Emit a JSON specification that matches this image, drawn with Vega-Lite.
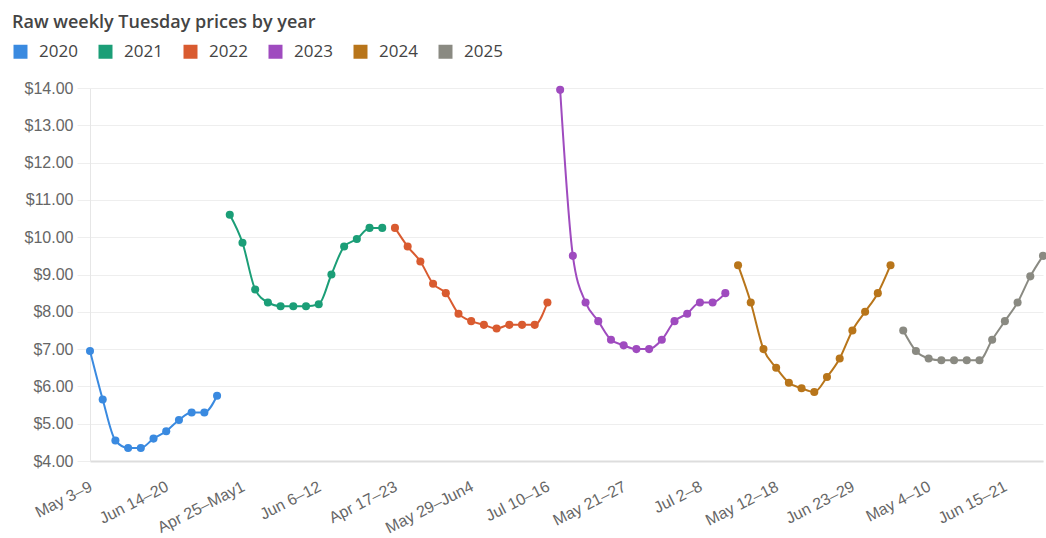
{
  "$schema": "https://vega.github.io/schema/vega-lite/v6.json",
  "width": 956,
  "height": 373,
  "autosize": {"type": "none"},
  "padding": {"left": 90, "top": 88, "right": 0, "bottom": 77},
  "background": "white",
  "title": {"text": "Raw weekly Tuesday prices by year", "anchor": "start", "dy": -7, "fontSize": 18, "font": "Open Sans", "fontWeight": 600, "color": "#444444"},
  "config": {"view": {"stroke": null}},
  "data": {"values": [
    {"year":"2020","week":"May 3–9","price":6.95},
    {"year":"2020","week":"May 10–16","price":5.65},
    {"year":"2020","week":"May 17–23","price":4.55},
    {"year":"2020","week":"May 24–30","price":4.35},
    {"year":"2020","week":"May 31–Jun6","price":4.35},
    {"year":"2020","week":"Jun 7–13","price":4.6},
    {"year":"2020","week":"Jun 14–20","price":4.8},
    {"year":"2020","week":"Jun 21–27","price":5.1},
    {"year":"2020","week":"Jun 28–Jul4","price":5.3},
    {"year":"2020","week":"Jul 5–11","price":5.3},
    {"year":"2020","week":"Jul 12–18","price":5.75},
    {"year":"2021","week":"Apr 18–24","price":10.6},
    {"year":"2021","week":"Apr 25–May1","price":9.85},
    {"year":"2021","week":"May 2–8","price":8.6},
    {"year":"2021","week":"May 9–15","price":8.25},
    {"year":"2021","week":"May 16–22","price":8.15},
    {"year":"2021","week":"May 23–29","price":8.15},
    {"year":"2021","week":"May 30–Jun5","price":8.15},
    {"year":"2021","week":"Jun 6–12","price":8.2},
    {"year":"2021","week":"Jun 13–19","price":9.0},
    {"year":"2021","week":"Jun 20–26","price":9.75},
    {"year":"2021","week":"Jun 27–Jul3","price":9.95},
    {"year":"2021","week":"Jul 4–10","price":10.25},
    {"year":"2021","week":"Jul 11–17","price":10.25},
    {"year":"2022","week":"Apr 17–23","price":10.25},
    {"year":"2022","week":"Apr 24–30","price":9.75},
    {"year":"2022","week":"May 1–7","price":9.35},
    {"year":"2022","week":"May 8–14","price":8.75},
    {"year":"2022","week":"May 15–21","price":8.5},
    {"year":"2022","week":"May 22–28","price":7.95},
    {"year":"2022","week":"May 29–Jun4","price":7.75},
    {"year":"2022","week":"Jun 5–11","price":7.65},
    {"year":"2022","week":"Jun 12–18","price":7.55},
    {"year":"2022","week":"Jun 19–25","price":7.65},
    {"year":"2022","week":"Jun 26–Jul2","price":7.65},
    {"year":"2022","week":"Jul 3–9","price":7.65},
    {"year":"2022","week":"Jul 10–16","price":8.25},
    {"year":"2023","week":"Apr 16–22","price":13.95},
    {"year":"2023","week":"Apr 23–29","price":9.5},
    {"year":"2023","week":"Apr 30–May6","price":8.25},
    {"year":"2023","week":"May 7–13","price":7.75},
    {"year":"2023","week":"May 14–20","price":7.25},
    {"year":"2023","week":"May 21–27","price":7.1},
    {"year":"2023","week":"May 28–Jun3","price":7.0},
    {"year":"2023","week":"Jun 4–10","price":7.0},
    {"year":"2023","week":"Jun 11–17","price":7.25},
    {"year":"2023","week":"Jun 18–24","price":7.75},
    {"year":"2023","week":"Jun 25–Jul1","price":7.95},
    {"year":"2023","week":"Jul 2–8","price":8.25},
    {"year":"2023","week":"Jul 9–15","price":8.25},
    {"year":"2023","week":"Jul 16–22","price":8.5},
    {"year":"2024","week":"Apr 21–27","price":9.25},
    {"year":"2024","week":"Apr 28–May4","price":8.25},
    {"year":"2024","week":"May 5–11","price":7.0},
    {"year":"2024","week":"May 12–18","price":6.5},
    {"year":"2024","week":"May 19–25","price":6.1},
    {"year":"2024","week":"May 26–Jun1","price":5.95},
    {"year":"2024","week":"Jun 2–8","price":5.85},
    {"year":"2024","week":"Jun 9–15","price":6.25},
    {"year":"2024","week":"Jun 16–22","price":6.75},
    {"year":"2024","week":"Jun 23–29","price":7.5},
    {"year":"2024","week":"Jun 30–Jul6","price":8.0},
    {"year":"2024","week":"Jul 7–13","price":8.5},
    {"year":"2024","week":"Jul 14–20","price":9.25},
    {"year":"2025","week":"Apr 20–26","price":7.5},
    {"year":"2025","week":"Apr 27–May3","price":6.95},
    {"year":"2025","week":"May 4–10","price":6.75},
    {"year":"2025","week":"May 11–17","price":6.7},
    {"year":"2025","week":"May 18–24","price":6.7},
    {"year":"2025","week":"May 25–31","price":6.7},
    {"year":"2025","week":"Jun 1–7","price":6.7},
    {"year":"2025","week":"Jun 8–14","price":7.25},
    {"year":"2025","week":"Jun 15–21","price":7.75},
    {"year":"2025","week":"Jun 22–28","price":8.25},
    {"year":"2025","week":"Jun 29–Jul5","price":8.95},
    {"year":"2025","week":"Jul 6–12","price":9.5}
  ]},
  "encoding": {
    "x": {
      "field": "week", "type": "ordinal", "sort": null,
      "scale": {"type": "point", "padding": 0, "range": [0, 953]},
      "axis": {
        "title": null,
        "values": ["May 3–9","Jun 14–20","Apr 25–May1","Jun 6–12","Apr 17–23","May 29–Jun4","Jul 10–16","May 21–27","Jul 2–8","May 12–18","Jun 23–29","May 4–10","Jun 15–21"],
        "labelAngle": -27, "labelAlign": "right", "labelBaseline": "top",
        "labelFont": "Liberation Sans", "labelFontSize": 16, "labelColor": "#666666",
        "labelPadding": 17, "labelOffset": -3, "ticks": false, "grid": false,
        "domainColor": "#dddddd", "domainWidth": 2, "labelOverlap": false
      }
    },
    "y": {
      "field": "price", "type": "quantitative",
      "scale": {"domain": [4, 14], "nice": false, "zero": false},
      "axis": {
        "title": null, "values": [4,5,6,7,8,9,10,11,12,13,14], "format": "$.2f",
        "labelFont": "Liberation Sans", "labelFontSize": 16, "labelColor": "#666666",
        "labelPadding": 4, "tickSize": 13, "tickColor": "#eeeeee",
        "gridColor": "#eeeeee", "domainColor": "#e6e6e6"
      }
    },
    "color": {
      "field": "year", "type": "nominal",
      "scale": {"domain": ["2020","2021","2022","2023","2024","2025"], "range": ["#3a8ae0","#1b9e77","#d95b30","#9f4bbf","#b8751a","#8a8a82"]},
      "legend": {
        "title": null, "orient": "none", "direction": "horizontal", "legendX": -78, "legendY": -45,
        "symbolType": "square", "symbolSize": 196, "symbolStrokeWidth": 0, "symbolOpacity": 1,
        "labelFont": "Open Sans", "labelFontSize": 17, "labelColor": "#444444",
        "labelOffset": 10, "columnPadding": 19
      }
    },
    "detail": {"field": "year"}
  },
  "layer": [
    {"mark": {"type": "line", "interpolate": "monotone", "strokeWidth": 2}},
    {"mark": {"type": "point", "filled": true, "size": 65, "opacity": 1}}
  ]
}
